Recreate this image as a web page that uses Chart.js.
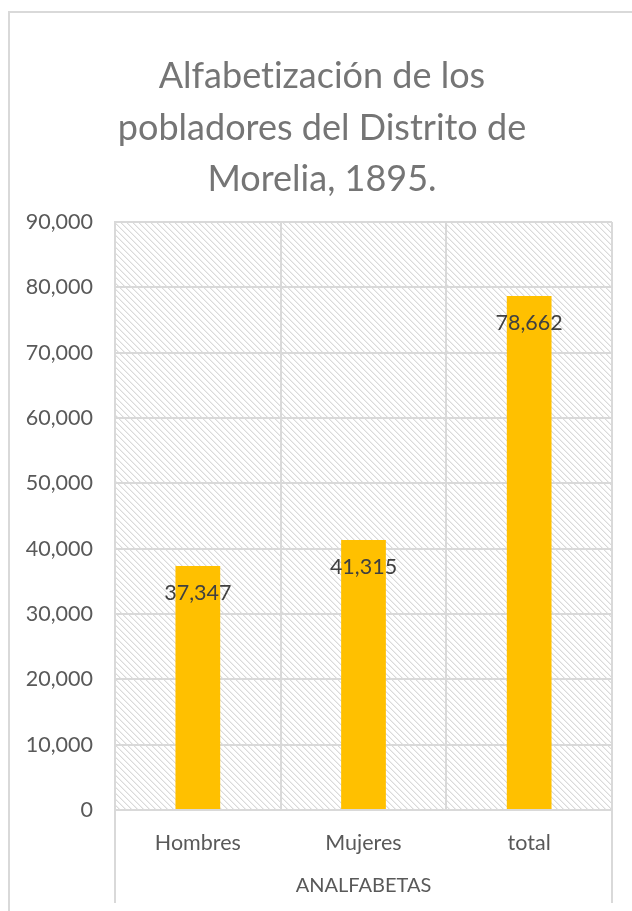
<!DOCTYPE html>
<html>
<head>
<meta charset="utf-8">
<script src="https://cdn.jsdelivr.net/npm/chart.js@4.4.1/dist/chart.umd.min.js"></script>
<style>
  html, body { margin: 0; padding: 0; background: #fff; }
  body { width: 632px; height: 911px; position: relative; overflow: hidden; }
  #frame {
    position: absolute; left: 8px; top: 11px; width: 700px; height: 1000px;
    border: 2px solid #d9d9d9; box-sizing: border-box;
  }
  #wrap { position: absolute; left: 0; top: 0; width: 632px; height: 911px; }
</style>
</head>
<body>
<div id="frame"></div>
<div id="wrap"><canvas id="chart" width="632" height="911"></canvas></div>
<script>
  // ZWNJ keeps Lato from joining "ti" into a ligature
  const titleLines = ['Alfabet\u200Cización de los', 'pobladores del Distrito de', 'Morelia, 1895.'];
  const categories = ['Hombres', 'Mujeres', 'total'];
  const analfabetas = [37347, 41315, 78662];
  const axisTitle = 'ANALFABETAS';
  const yMax = 90000;
  const yStep = 10000;

  const FONT = 'Lato, "Open Sans", sans-serif';
  const GRID = '#d9d9d9';
  const fmt = (n) => n.toLocaleString('en-US');

  // light downward diagonal fill for the plot area
  function hatch() {
    const c = document.createElement('canvas');
    c.width = 6; c.height = 6;
    const g = c.getContext('2d');
    g.fillStyle = '#fff';
    g.fillRect(0, 0, 6, 6);
    for (let i = 0; i < 6; i++) {
      g.fillStyle = '#dadada';
      g.fillRect(i, i, 1, 1);
      g.fillStyle = '#efefef';
      g.fillRect((i + 1) % 6, i, 1, 1);
    }
    return g.createPattern(c, 'repeat');
  }

  const plotBackground = {
    id: 'plotBackground',
    beforeDraw(chart) {
      const { ctx, chartArea: a } = chart;
      ctx.save();
      ctx.fillStyle = hatch();
      ctx.fillRect(a.left, a.top, a.right - a.left, a.bottom - a.top);
      ctx.restore();
    }
  };

  // the title is centred on the frame, not on the whole canvas
  const titleSpan = {
    id: 'titleSpan',
    afterLayout(chart) {
      if (chart.titleBlock) {
        chart.titleBlock.left = 32;
        chart.titleBlock.right = chart.chartArea.right;
      }
    }
  };

  // outer category boundaries run down through the axis title band
  const axisBand = {
    id: 'axisBand',
    afterDraw(chart) {
      const { ctx, chartArea: a } = chart;
      ctx.save();
      ctx.strokeStyle = GRID;
      ctx.lineWidth = 2;
      ctx.beginPath();
      ctx.moveTo(a.left, a.bottom);
      ctx.lineTo(a.left, chart.height - 8);
      ctx.moveTo(a.right, a.bottom);
      ctx.lineTo(a.right, chart.height - 8);
      ctx.stroke();
      ctx.restore();
    }
  };

  const valueLabels = {
    id: 'valueLabels',
    afterDatasetsDraw(chart) {
      const { ctx } = chart;
      const meta = chart.getDatasetMeta(0);
      ctx.save();
      ctx.font = '21.5px ' + FONT;
      ctx.fillStyle = '#404040';
      ctx.textAlign = 'center';
      ctx.textBaseline = 'middle';
      meta.data.forEach((bar, i) => {
        ctx.fillText(fmt(chart.data.datasets[0].data[i]), bar.x, bar.y + 27);
      });
      ctx.restore();
    }
  };

  new Chart(document.getElementById('chart'), {
    type: 'bar',
    data: {
      labels: categories,
      datasets: [{
        data: analfabetas,
        backgroundColor: '#ffc000',
        borderWidth: 0,
        categoryPercentage: 1,
        barPercentage: 0.27
      }]
    },
    options: {
      responsive: false,
      animation: false,
      layout: { padding: { left: 0, right: 20, top: 0, bottom: 0 } },
      plugins: {
        legend: { display: false },
        tooltip: { enabled: false },
        title: {
          display: true,
          text: titleLines,
          color: '#757575',
          font: { family: FONT, size: 36, weight: 'normal', lineHeight: 1.43 },
          padding: { top: 51, bottom: 16.5 }
        }
      },
      scales: {
        x: {
          afterFit(scale) { scale.height = 101; },
          grid: { color: GRID, lineWidth: 2, drawTicks: false, offset: true },
          border: { color: GRID, width: 2 },
          ticks: { color: '#595959', font: { family: FONT, size: 21.5 }, padding: 20 },
          title: {
            display: true, text: axisTitle, color: '#595959',
            font: { family: FONT, size: 20 }, padding: { top: 0, bottom: 13 }
          }
        },
        y: {
          min: 0,
          max: yMax,
          afterFit(scale) { scale.width = 115; },
          grid: { color: GRID, lineWidth: 2, drawTicks: false },
          border: { color: GRID, width: 2 },
          ticks: {
            stepSize: yStep,
            color: '#595959',
            font: { family: FONT, size: 21.5 },
            padding: 22,
            callback: (v) => fmt(v)
          }
        }
      }
    },
    plugins: [plotBackground, titleSpan, axisBand, valueLabels]
  });
</script>
</body>
</html>
